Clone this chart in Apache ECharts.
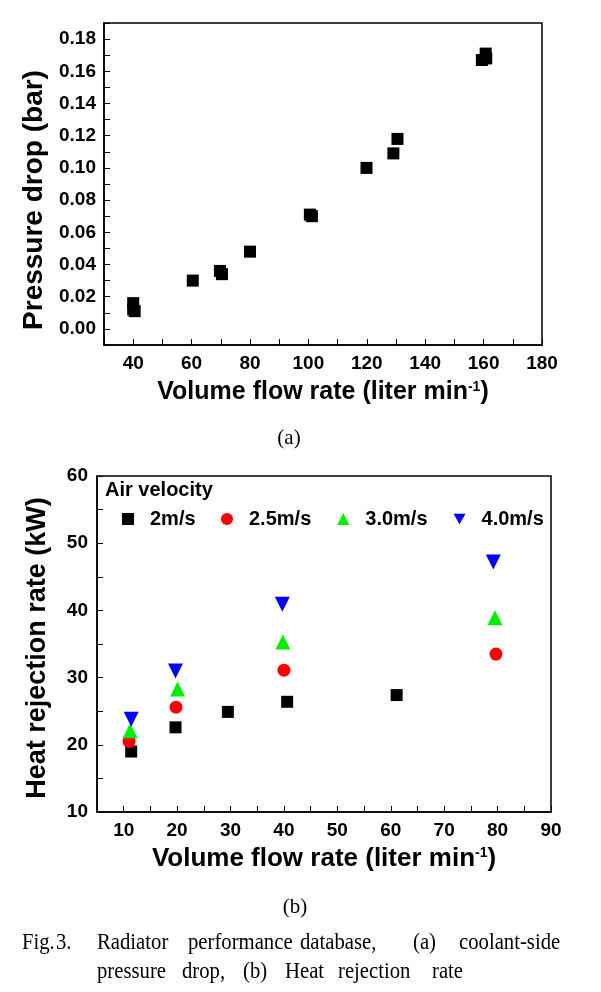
<!DOCTYPE html>
<html>
<head>
<meta charset="utf-8">
<title>Radiator performance database</title>
<script src="https://cdn.jsdelivr.net/npm/echarts@6/dist/echarts.min.js"></script>
<style>
  html, body { margin: 0; padding: 0; background: #fff; }
  #main { width: 601px; height: 992px; }
</style>
</head>
<body>
<div id="main"></div>
<script>
// (a) coolant-side pressure drop
var flowA = [40, 40.5, 40, 60.4, 69.7, 70.4, 80, 100.5, 101.2, 119.9, 129.1, 130.5, 159.4, 160.7, 160.9]
var dropA = [0.016, 0.011, 0.012, 0.030, 0.036, 0.034, 0.048, 0.071, 0.070, 0.100, 0.109, 0.118, 0.167, 0.171, 0.168]

// (b) heat rejection rate, one pair of arrays per air velocity
var velNames = ['2m/s', '2.5m/s', '3.0m/s', '4.0m/s']
var flow20 = [11.4, 19.7, 29.5, 40.6, 61.1]
var heat20 = [19.0, 22.6, 24.9, 26.4, 27.4]
var flow25 = [11.0, 19.8, 40.0, 79.7]
var heat25 = [20.5, 25.6, 31.1, 33.5]
var flow30 = [11.2, 20.1, 39.8, 79.5]
var heat30 = [22.1, 28.3, 35.3, 38.9]
var flow40 = [11.4, 19.7, 39.7, 79.2]
var heat40 = [23.8, 31.0, 40.9, 47.2]

var FONT = '"Liberation Sans", Arial, sans-serif'
var SERIF = '"Liberation Serif", "Times New Roman", serif'

function pairs (xs, ys) {
  return xs.map(function (x, i) { return [x, ys[i]] })
}

function tickLabel (margin, formatter) {
  return { color: '#000', fontFamily: FONT, fontWeight: 'bold', fontSize: 19, margin: margin, formatter: formatter }
}

function axisLine () {
  return { show: true, onZero: false, lineStyle: { color: '#000', width: 1.5 } }
}

// negative length points the ticks into the plot
function axisTick () {
  return { show: true, inside: false, length: -6, lineStyle: { color: '#000', width: 1 } }
}

function everyTen (v) {
  return (Math.round(v) % 10 === 0) ? String(Math.round(v)) : ''
}

var flowName = 'Volume flow rate (liter min{sup|-1})'
function flowNameStyle (size) {
  return {
    color: '#000', fontFamily: FONT, fontWeight: 'bold', fontSize: size,
    rich: { sup: { fontFamily: FONT, fontWeight: 'bold', fontSize: 14, verticalAlign: 'top', color: '#000' } }
  }
}

var chart = echarts.init(document.getElementById('main'))

var option = {
  animation: false,
  backgroundColor: '#fff',
  grid: [
    { left: 104, top: 23, width: 438, height: 322, show: true, borderColor: '#000', borderWidth: 1.5 },
    { left: 97, top: 476, width: 454, height: 336, show: true, borderColor: '#000', borderWidth: 1.5 }
  ],
  xAxis: [
    {
      gridIndex: 0, type: 'value', min: 30, max: 180, interval: 10,
      axisLine: axisLine(), axisTick: axisTick(), splitLine: { show: false },
      axisLabel: tickLabel(9, function (v) { return (Math.round(v) % 20 === 0) ? String(Math.round(v)) : '' }),
      name: flowName, nameLocation: 'middle', nameGap: 35, nameTextStyle: flowNameStyle(25)
    },
    {
      gridIndex: 1, type: 'value', min: 5, max: 90, interval: 5,
      axisLine: axisLine(), axisTick: axisTick(), splitLine: { show: false },
      axisLabel: tickLabel(9, everyTen),
      name: flowName, nameLocation: 'middle', nameGap: 34, nameTextStyle: flowNameStyle(26)
    }
  ],
  yAxis: [
    {
      gridIndex: 0, type: 'value', min: -0.01, max: 0.19, interval: 0.01,
      axisLine: axisLine(), axisTick: axisTick(), splitLine: { show: false },
      axisLabel: tickLabel(8, function (v) {
        var k = Math.round(v * 100)
        return (k >= 0 && k <= 18 && k % 2 === 0) ? (k / 100).toFixed(2) : ''
      }),
      name: 'Pressure drop (bar)', nameLocation: 'middle', nameGap: 55,
      // right padding pushes the rotated title down, as in the print
      nameTextStyle: { color: '#000', fontFamily: FONT, fontWeight: 'bold', fontSize: 28, padding: [0, 32, 0, 0] }
    },
    {
      gridIndex: 1, type: 'value', min: 10, max: 60, interval: 5,
      axisLine: axisLine(), axisTick: axisTick(), splitLine: { show: false },
      axisLabel: tickLabel(9, everyTen),
      name: 'Heat rejection rate (kW)', nameLocation: 'middle', nameGap: 46,
      nameTextStyle: { color: '#000', fontFamily: FONT, fontWeight: 'bold', fontSize: 27, padding: [0, 8, 0, 0] }
    }
  ],
  // two legend boxes so the spacing after "2m/s" can be wider, as in the print
  legend: [
    {
      data: [velNames[0]],
      left: 117, top: 504,
      itemWidth: 12, itemHeight: 12,
      textStyle: { color: '#000', fontFamily: FONT, fontWeight: 'bold', fontSize: 20, padding: [0, 0, 0, 11] }
    },
    {
      data: velNames.slice(1),
      left: 216, top: 504,
      itemWidth: 12, itemHeight: 12, itemGap: 26,
      textStyle: { color: '#000', fontFamily: FONT, fontWeight: 'bold', fontSize: 20, padding: [0, 0, 0, 11] }
    }
  ],
  series: [
    {
      name: 'dp', type: 'scatter', xAxisIndex: 0, yAxisIndex: 0,
      symbol: 'rect', symbolSize: 12, itemStyle: { color: '#000', opacity: 1 },
      data: pairs(flowA, dropA)
    },
    {
      name: velNames[0], type: 'scatter', xAxisIndex: 1, yAxisIndex: 1,
      symbol: 'rect', symbolSize: 12, itemStyle: { color: '#000', opacity: 1 },
      data: pairs(flow20, heat20)
    },
    {
      name: velNames[1], type: 'scatter', xAxisIndex: 1, yAxisIndex: 1,
      symbol: 'circle', symbolSize: 13, itemStyle: { color: '#ff0000', opacity: 1 },
      data: pairs(flow25, heat25)
    },
    {
      name: velNames[2], type: 'scatter', xAxisIndex: 1, yAxisIndex: 1,
      symbol: 'triangle', symbolSize: 15, itemStyle: { color: '#00ee00', opacity: 1 },
      data: pairs(flow30, heat30)
    },
    {
      name: velNames[3], type: 'scatter', xAxisIndex: 1, yAxisIndex: 1,
      symbol: 'path://M0,0L10,0L5,8.7Z', symbolSize: 15, itemStyle: { color: '#0000ff', opacity: 1 },
      data: pairs(flow40, heat40)
    }
  ],
  graphic: [
    { type: 'text', left: 105, top: 480, style: { text: 'Air velocity', fill: '#000', font: 'bold 20px ' + FONT } },
    { type: 'text', x: 289, y: 438, style: { text: '(a)', fill: '#000', font: '21px ' + SERIF, textAlign: 'center', textVerticalAlign: 'middle' } },
    { type: 'text', x: 295, y: 907, style: { text: '(b)', fill: '#000', font: '21px ' + SERIF, textAlign: 'center', textVerticalAlign: 'middle' } }
  ]
}

// caption words, placed one by one to mimic the justified print layout
var capLine1 = [['Fig.', 22], ['3.', 56], ['Radiator', 97], ['performance', 188], ['database,', 300], ['(a)', 413], ['coolant-side', 459]]
var capLine2 = [['pressure', 97], ['drop,', 182], ['(b)', 243], ['Heat', 285], ['rejection', 338], ['rate', 432]]
function captionWord (w, y) {
  return {
    type: 'text', x: w[1], y: y, scaleX: 0.9,
    style: { text: w[0], fill: '#000', font: '23px ' + SERIF, textVerticalAlign: 'middle' }
  }
}
capLine1.forEach(function (w) { option.graphic.push(captionWord(w, 943)) })
capLine2.forEach(function (w) { option.graphic.push(captionWord(w, 972)) })

chart.setOption(option)
</script>
</body>
</html>
